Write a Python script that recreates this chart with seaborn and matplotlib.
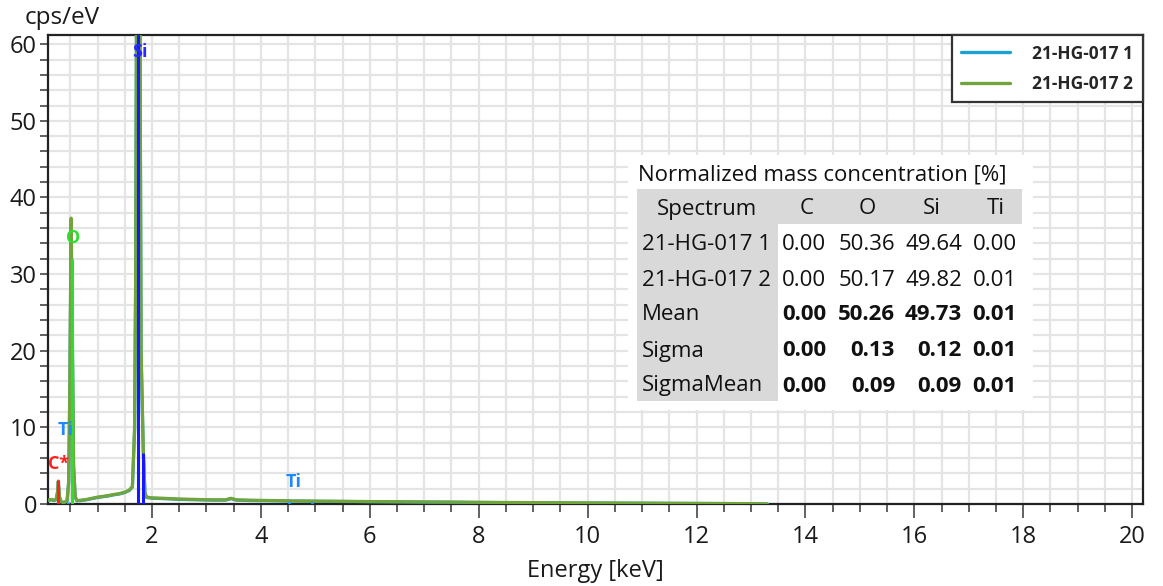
import matplotlib
matplotlib.use("Agg")
import matplotlib.pyplot as plt
from matplotlib.patches import Rectangle
from matplotlib.ticker import MultipleLocator, FixedLocator
import numpy as np
import pandas as pd
import seaborn as sns

# ---- spectrum data (energy in keV, intensity in cps/eV) ----
energy_keV = [0.10, 0.15, 0.20, 0.24, 0.265, 0.28, 0.30, 0.33, 0.38, 0.44,
              0.47, 0.49, 0.515, 0.54, 0.56, 0.59, 0.62, 0.70, 0.80, 0.90,
              1.00, 1.10, 1.20, 1.30, 1.40, 1.50, 1.58, 1.64, 1.68, 1.70,
              1.72, 1.76, 1.78, 1.80, 1.84, 1.87, 1.90, 2.00, 2.20, 2.50,
              2.80, 3.10, 3.35, 3.45, 3.55, 3.80, 4.20, 4.60, 5.00, 5.50,
              6.00, 6.50, 7.00, 7.50, 8.00, 9.00, 10.00, 11.00, 12.00, 13.00,
              13.30]
cps_spectrum_1 = [0.45, 0.55, 0.45, 0.55, 1.5, 2.9, 0.9, 0.3, 0.2, 0.35,
                  2.8, 14.5, 36.5, 19.5, 4.8, 0.9, 0.4, 0.45, 0.55, 0.7,
                  0.85, 0.95, 1.05, 1.2, 1.3, 1.5, 1.75, 2.2, 9.5, 29.0,
                  74.0, 74.0, 61.0, 19.5, 6.8, 1.4, 0.85, 0.75, 0.7, 0.6,
                  0.55, 0.5, 0.5, 0.7, 0.5, 0.45, 0.42, 0.38, 0.35, 0.33,
                  0.3, 0.28, 0.25, 0.23, 0.2, 0.16, 0.13, 0.1, 0.07, 0.04,
                  0.0]
cps_spectrum_2 = [0.5, 0.6, 0.5, 0.6, 1.6, 3.0, 1.0, 0.3, 0.2, 0.4,
                  3.0, 15.0, 37.3, 20.0, 5.0, 1.0, 0.45, 0.5, 0.6, 0.75,
                  0.9, 1.0, 1.1, 1.25, 1.35, 1.55, 1.8, 2.3, 10.0, 30.0,
                  75.0, 75.0, 62.0, 20.0, 7.0, 1.5, 0.9, 0.8, 0.75, 0.65,
                  0.6, 0.55, 0.55, 0.75, 0.55, 0.5, 0.45, 0.4, 0.38, 0.35,
                  0.32, 0.3, 0.27, 0.25, 0.22, 0.18, 0.14, 0.11, 0.08, 0.05,
                  0.0]
spectrum_names = ["21-HG-017 1", "21-HG-017 2"]

# ---- element line markers ----
line_element = ["C", "Ti", "O", "Si", "Si", "Ti", "Ti"]
line_energy = [0.277, 0.452, 0.525, 1.740, 1.836, 4.510, 4.931]
line_height = [3.1, 0.3, 32.0, 80.0, 6.6, 0.3, 0.3]

# ---- element labels ----
label_text = ["C*", "Ti", "O", "Si", "Ti"]
label_energy = [0.29, 0.42, 0.55, 1.78, 4.60]
label_height = [5.2, 9.6, 34.7, 59.0, 2.9]

# ---- quantification table ----
table_title = "Normalized mass concentration [%]"
table_columns = ["Spectrum", "C", "O", "Si", "Ti"]
table_rows = ["21-HG-017 1", "21-HG-017 2", "Mean", "Sigma", "SigmaMean"]
table_values = [
    ["0.00", "50.36", "49.64", "0.00"],
    ["0.00", "50.17", "49.82", "0.01"],
    ["0.00", "50.26", "49.73", "0.01"],
    ["0.00", "0.13", "0.12", "0.01"],
    ["0.00", "0.09", "0.09", "0.01"],
]
bold_rows = {"Mean", "Sigma", "SigmaMean"}

# ---- styling ----
spectrum_colors = {"21-HG-017 1": "#1ba3d0", "21-HG-017 2": "#72a43c"}
element_colors = {"C": "#ff2020", "O": "#2fdc2f", "Si": "#1818ff", "Ti": "#1e88ff"}
label_colors = {"C*": "#ff2020", "O": "#2fdc2f", "Si": "#2a2aff", "Ti": "#1e88ff"}

sns.set_style("ticks")
plt.rcParams["font.family"] = ["Open Sans", "DejaVu Sans"]

W, H = 1163, 586
fig = plt.figure(figsize=(W / 100, H / 100), dpi=100)
ax = fig.add_axes([48 / W, 1 - 504 / H, (1143 - 48) / W, (504 - 35) / H])

df = pd.concat([
    pd.DataFrame({"energy": energy_keV, "cps": cps_spectrum_1, "spectrum": spectrum_names[0]}),
    pd.DataFrame({"energy": energy_keV, "cps": cps_spectrum_2, "spectrum": spectrum_names[1]}),
])
sns.lineplot(data=df, x="energy", y="cps", hue="spectrum", palette=spectrum_colors,
             estimator=None, sort=False, linewidth=2.3, ax=ax, zorder=3)

# element marker lines
ax.vlines(line_energy, 0, line_height,
          colors=[element_colors[e] for e in line_element], linewidth=2.2, zorder=4)
for txt, xe, ye in zip(label_text, label_energy, label_height):
    ax.text(xe, ye, txt, color=label_colors[txt], fontsize=13, fontweight="bold",
            ha="center", va="center", zorder=5)

ax.set_xlim(0.09, 20.2)
ax.set_ylim(0, 61.2)
ax.xaxis.set_major_locator(FixedLocator(np.arange(2, 21, 2)))
ax.xaxis.set_minor_locator(MultipleLocator(0.5))
ax.yaxis.set_major_locator(MultipleLocator(10))
ax.yaxis.set_minor_locator(MultipleLocator(2))
ax.grid(True, which="both", color="#e4e4e4", linewidth=1.6, zorder=0)
ax.set_axisbelow(True)
ax.tick_params(axis="x", which="major", length=10, width=1.3, color="#555555",
               labelsize=17, pad=5, labelcolor="#1a1a1a")
ax.tick_params(axis="x", which="minor", length=6, width=1.3, color="#555555")
ax.tick_params(axis="y", which="both", length=6, width=1.3, color="#555555",
               labelsize=17, pad=2, labelcolor="#1a1a1a")
for side in ["left", "bottom", "top", "right"]:
    ax.spines[side].set_color("#222222")
    ax.spines[side].set_linewidth(1.6)
ax.set_xlabel("Energy [keV]", fontsize=17, color="#1a1a1a", labelpad=7)
ax.set_ylabel("")
ax.text(25 / W, 1 - 18 / H, "cps/eV", transform=fig.transFigure, fontsize=17.5,
        color="#1a1a1a", ha="left", va="center")

handles, labels = ax.get_legend_handles_labels()
leg = ax.legend(handles, labels, loc="upper right", borderaxespad=0, frameon=True,
                fancybox=False, framealpha=1, edgecolor="#333333",
                prop={"size": 12.5, "weight": "bold"}, handlelength=2.8,
                handletextpad=1.3, borderpad=0.55, labelspacing=0.7)
leg.get_frame().set_linewidth(1.6)
for h in leg.legend_handles:
    h.set_linewidth(2.4)


# ---- quantification table drawn in figure pixels ----
def fx(px):
    return px / W


def fy(py):
    return 1 - py / H


def box(x0, y0, x1, y1, color, z):
    fig.add_artist(Rectangle((fx(x0), fy(y1)), fx(x1) - fx(x0), fy(y0) - fy(y1),
                             transform=fig.transFigure, facecolor=color,
                             edgecolor="none", zorder=z))


box(628, 155, 1033, 410, "white", 6)
box(637, 189, 1022, 224, "#d9d9d9", 7)
box(637, 189, 778, 401, "#d9d9d9", 7)

tfs = 16
fig.text(fx(638), fy(175), table_title, fontsize=tfs, ha="left", va="center",
         color="#111111", zorder=8)
header_x = [707, 807, 867, 932, 996]
for hx, name in zip(header_x, table_columns):
    fig.text(fx(hx), fy(209), name, fontsize=tfs, ha="center", va="center",
             color="#111111", zorder=8)
row_y = [244, 280, 315, 351, 386]
value_right = [826, 895, 962, 1017]
for ry, rname, vals in zip(row_y, table_rows, table_values):
    fig.text(fx(642), fy(ry), rname, fontsize=tfs, ha="left", va="center",
             color="#111111", zorder=8)
    weight = "bold" if rname in bold_rows else "normal"
    for vx, v in zip(value_right, vals):
        fig.text(fx(vx), fy(ry), v, fontsize=tfs, ha="right", va="center",
                 color="#111111", fontweight=weight, zorder=8)

fig.savefig("out.png", dpi=100)
